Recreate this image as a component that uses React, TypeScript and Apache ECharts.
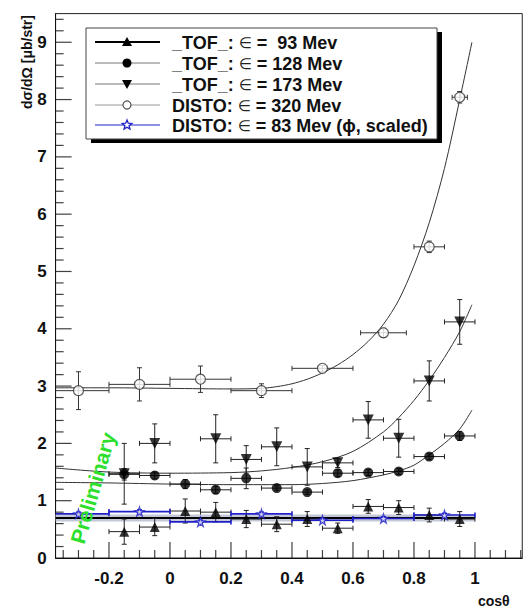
import React, { useEffect, useRef } from 'react';
import * as echarts from 'echarts';

const X_MIN = -0.375;
const X_MAX = 1.155;
const Y_MIN = 0;
const Y_MAX = 9.5;

// [cosθ, dσ/dΩ, x error, y error]
const tof93: number[][] = [
  [-0.15, 0.46, 0.05, 0.22],
  [-0.05, 0.54, 0.05, 0.15],
  [0.05, 0.82, 0.05, 0.21],
  [0.15, 0.8, 0.05, 0.17],
  [0.25, 0.68, 0.05, 0.15],
  [0.35, 0.59, 0.05, 0.13],
  [0.45, 0.68, 0.05, 0.13],
  [0.55, 0.52, 0.05, 0.09],
  [0.65, 0.9, 0.05, 0.12],
  [0.75, 0.88, 0.05, 0.12],
  [0.85, 0.75, 0.05, 0.12],
  [0.95, 0.68, 0.05, 0.13],
];
const tof128: number[][] = [
  [-0.15, 1.46, 0.05, 0.1],
  [-0.05, 1.44, 0.05, 0.06],
  [0.05, 1.29, 0.05, 0.08],
  [0.15, 1.19, 0.05, 0.06],
  [0.25, 1.39, 0.05, 0.18],
  [0.35, 1.22, 0.05, 0.04],
  [0.45, 1.15, 0.05, 0.04],
  [0.55, 1.48, 0.05, 0.06],
  [0.65, 1.49, 0.05, 0.05],
  [0.75, 1.51, 0.05, 0.05],
  [0.85, 1.77, 0.05, 0.05],
  [0.95, 2.13, 0.05, 0.08],
];
const tof173: number[][] = [
  [-0.15, 1.47, 0.05, 0.53],
  [-0.05, 2.0, 0.05, 0.34],
  [0.15, 2.08, 0.05, 0.42],
  [0.25, 1.72, 0.05, 0.24],
  [0.35, 1.94, 0.05, 0.33],
  [0.45, 1.59, 0.05, 0.32],
  [0.55, 1.66, 0.05, 0.08],
  [0.65, 2.41, 0.05, 0.32],
  [0.75, 2.09, 0.05, 0.33],
  [0.85, 3.09, 0.05, 0.35],
  [0.95, 4.12, 0.05, 0.39],
];
const disto320: number[][] = [
  [-0.3, 2.92, 0.1, 0.33],
  [-0.1, 3.03, 0.1, 0.29],
  [0.1, 3.12, 0.1, 0.23],
  [0.3, 2.92, 0.1, 0.12],
  [0.5, 3.31, 0.1, 0.05],
  [0.7, 3.93, 0.075, 0.08],
  [0.85, 5.43, 0.05, 0.1],
  [0.95, 8.04, 0.025, 0.1],
];
const disto83: number[][] = [
  [-0.3, 0.77, 0.1, 0.03],
  [-0.1, 0.81, 0.1, 0.03],
  [0.1, 0.63, 0.1, 0.03],
  [0.3, 0.77, 0.1, 0.03],
  [0.5, 0.66, 0.1, 0.03],
  [0.7, 0.69, 0.1, 0.03],
  [0.9, 0.75, 0.1, 0.03],
];

// fit curves
const fitDisto320: number[][] = [
  [-0.375, 2.97], [-0.2, 2.97], [0, 2.96], [0.2, 2.95], [0.3, 2.96], [0.35, 2.99],
  [0.4, 3.04], [0.45, 3.12], [0.5, 3.23], [0.55, 3.37], [0.6, 3.55], [0.65, 3.78],
  [0.7, 4.08], [0.75, 4.5], [0.8, 5.1], [0.85, 5.85], [0.9, 6.8], [0.95, 8.0], [0.99, 9.0],
];
const fitTof173: number[][] = [
  [-0.375, 1.57], [-0.2, 1.5], [0, 1.48], [0.2, 1.49], [0.3, 1.52], [0.4, 1.58],
  [0.5, 1.68], [0.6, 1.86], [0.7, 2.2], [0.75, 2.45], [0.8, 2.75], [0.85, 3.1],
  [0.9, 3.5], [0.95, 3.95], [0.99, 4.42],
];
const fitTof128: number[][] = [
  [-0.375, 1.32], [-0.2, 1.31], [0, 1.29], [0.2, 1.28], [0.4, 1.28], [0.5, 1.3],
  [0.6, 1.35], [0.7, 1.45], [0.75, 1.52], [0.8, 1.62], [0.85, 1.8], [0.9, 2.0],
  [0.95, 2.25], [0.99, 2.58],
];
const fitTof93: number[][] = [[-0.375, 0.7], [1.0, 0.7]];

// axis tick positions
const xMajorTicks = [-0.2, 0, 0.2, 0.4, 0.6, 0.8, 1.0];
const xMinorTicks = [-0.35, -0.3, -0.25, -0.15, -0.1, -0.05, 0.05, 0.1, 0.15, 0.25, 0.3, 0.35, 0.45, 0.5, 0.55, 0.65, 0.7, 0.75, 0.85, 0.9, 0.95, 1.05, 1.1, 1.15];
const yMajorTicks = [1, 2, 3, 4, 5, 6, 7, 8, 9];
const yMinorTicks: number[] = [];
for (let i = 1; i <= 47; i++) if (i % 5 !== 0) yMinorTicks.push(Math.round(i * 2) / 10);

const legendRows = [
  { pre: '_TOF_: ', post: ' =  93 Mev', line: '#000', lw: 2, mark: 'up' },
  { pre: '_TOF_: ', post: ' = 128 Mev', line: '#777', lw: 1, mark: 'dot' },
  { pre: '_TOF_: ', post: ' = 173 Mev', line: '#777', lw: 1, mark: 'down' },
  { pre: 'DISTO: ', post: ' = 320 Mev', line: '#999', lw: 1, mark: 'open' },
  { pre: 'DISTO: ', post: ' = 83 Mev (\u03d5, scaled)', line: '#2020c8', lw: 1, mark: 'star' },
];

const STAR = 'path://M50,0 L61,35 L98,35 L68,57 L79,91 L50,70 L21,91 L32,57 L2,35 L39,35 Z';
const FONT = 'Liberation Sans, Arial, sans-serif';

function errorBars(color: string, width: number) {
  return (params: any, api: any) => {
    const x = api.value(0), y = api.value(1), xe = api.value(2), ye = api.value(3);
    const cs = params.coordSys;
    const c = api.coord([x, y]);
    const left = api.coord([x - xe, y])[0];
    const right = api.coord([x + xe, y])[0];
    const top = api.coord([x, y + ye])[1];
    const bottom = api.coord([x, y - ye])[1];
    const xl = Math.max(left, cs.x);
    const xr = Math.min(right, cs.x + cs.width);
    const cap = 2.5;
    const style = { stroke: color, lineWidth: width, fill: null };
    const children: any[] = [
      { type: 'line', shape: { x1: xl, y1: c[1], x2: xr, y2: c[1] }, style },
      { type: 'line', shape: { x1: c[0], y1: top, x2: c[0], y2: bottom }, style },
      { type: 'line', shape: { x1: c[0] - cap, y1: top, x2: c[0] + cap, y2: top }, style },
      { type: 'line', shape: { x1: c[0] - cap, y1: bottom, x2: c[0] + cap, y2: bottom }, style },
    ];
    if (left >= cs.x) children.push({ type: 'line', shape: { x1: xl, y1: c[1] - cap, x2: xl, y2: c[1] + cap }, style });
    if (right <= cs.x + cs.width) children.push({ type: 'line', shape: { x1: xr, y1: c[1] - cap, x2: xr, y2: c[1] + cap }, style });
    return { type: 'group', children };
  };
}

function legendMarker(kind: string, cx: number, cy: number): any {
  const s = 5;
  if (kind === 'up') return { type: 'polygon', shape: { points: [[cx, cy - s], [cx + s, cy + s * 0.8], [cx - s, cy + s * 0.8]] }, style: { fill: '#000' } };
  if (kind === 'down') return { type: 'polygon', shape: { points: [[cx, cy + s], [cx + s, cy - s * 0.8], [cx - s, cy - s * 0.8]] }, style: { fill: '#000' } };
  if (kind === 'dot') return { type: 'circle', shape: { cx, cy, r: 4.5 }, style: { fill: '#000' } };
  if (kind === 'open') return { type: 'circle', shape: { cx, cy, r: 4 }, style: { fill: '#fff', stroke: '#555', lineWidth: 1.2 } };
  const pts: number[][] = [];
  for (let i = 0; i < 10; i++) {
    const r = i % 2 === 0 ? 5 : 2.2;
    const a = -Math.PI / 2 + (i * Math.PI) / 5;
    pts.push([cx + r * Math.cos(a), cy + r * Math.sin(a)]);
  }
  return { type: 'polygon', shape: { points: pts }, style: { fill: '#fff', stroke: '#2020c8', lineWidth: 1.3 } };
}

function tickSeries(data: number[][], size: number[], offset: number[]): any {
  return {
    type: 'scatter', data, symbol: 'rect', symbolSize: size, symbolOffset: offset,
    silent: true, clip: false, z: 7, itemStyle: { color: '#111' },
  };
}

export default function App() {
  const ref = useRef<HTMLDivElement>(null);
  useEffect(() => {
    if (!ref.current) return;
    const chart = echarts.init(ref.current, undefined, { renderer: 'svg' });

    const LX = 86, LY = 28, LW = 351, LH = 111;
    const rowY = [42, 63, 84, 105, 125];
    const legendEls: any[] = [
      { type: 'rect', shape: { x: LX + 5, y: LY + 4, width: LW, height: LH }, style: { fill: '#000' } },
      { type: 'rect', shape: { x: LX, y: LY, width: LW, height: LH }, style: { fill: '#fff', stroke: '#444', lineWidth: 1 } },
    ];
    legendRows.forEach((r, i) => {
      const y = rowY[i];
      legendEls.push({ type: 'line', shape: { x1: 95, y1: y, x2: 160, y2: y }, style: { stroke: r.line, lineWidth: r.lw } });
      legendEls.push(legendMarker(r.mark, 127, y));
      legendEls.push({
        type: 'text', x: 172, y: y + 1,
        style: {
          text: '{b|' + r.pre + '}{s|\u2208}{b|' + r.post + '}',
          textVerticalAlign: 'middle',
          rich: {
            b: { font: 'bold 18px ' + FONT, fill: '#111' },
            s: { font: '15px DejaVu Sans, sans-serif', fill: '#222' },
          },
        },
      });
    });

    const option: any = {
      animation: false,
      grid: { left: 55.6, right: 3.75, top: 13.6, bottom: 50, show: true, borderColor: '#222', borderWidth: 1 },
      xAxis: {
        type: 'value', min: X_MIN, max: X_MAX, splitNumber: 8,
        axisLine: { show: true, onZero: false, lineStyle: { color: '#111' } },
        axisTick: { show: false }, splitLine: { show: false },
        axisLabel: {
          showMinLabel: false, showMaxLabel: false, margin: 12,
          color: '#111', fontFamily: FONT, fontWeight: 'bold', fontSize: 17,
          formatter: (v: number) => String(Math.round(v * 10) / 10),
        },
      },
      yAxis: {
        type: 'value', min: Y_MIN, max: Y_MAX, interval: 1,
        axisLine: { show: true, onZero: false, lineStyle: { color: '#111' } },
        axisTick: { show: false }, splitLine: { show: false },
        axisLabel: {
          showMaxLabel: false, margin: 9,
          color: '#111', fontFamily: FONT, fontWeight: 'bold', fontSize: 17,
        },
      },
      graphic: [
        ...legendEls,
        {
          type: 'text', x: 27, y: 62, rotation: Math.PI / 2,
          style: { text: 'd\u03c3/d\u03a9 [\u03bcb/str]', font: 'bold 14px ' + FONT, fill: '#111', textAlign: 'center', textVerticalAlign: 'middle' },
        },
        {
          type: 'text', x: 478, y: 601,
          style: { text: 'cos\u03b8', font: 'bold 14px ' + FONT, fill: '#111', textAlign: 'left', textVerticalAlign: 'middle' },
        },
        {
          type: 'text', x: 93, y: 488, rotation: 1.29, z: 10,
          style: { text: 'Preliminary', font: 'bold 21px ' + FONT, fill: '#2ee02e', textAlign: 'center', textVerticalAlign: 'middle' },
        },
      ],
      series: [
        // tick marks, placed through the axes
        tickSeries(xMajorTicks.map((v) => [v, Y_MIN]), [1.2, 16], [0, -8]),
        tickSeries(xMinorTicks.map((v) => [v, Y_MIN]), [1.2, 8], [0, -4]),
        tickSeries(yMajorTicks.map((v) => [X_MIN, v]), [16, 1.2], [8, 0]),
        tickSeries(yMinorTicks.map((v) => [X_MIN, v]), [8, 1.2], [4, 0]),
        // fits
        { type: 'line', data: fitTof93, showSymbol: false, silent: true, z: 1, lineStyle: { color: '#c4c8d6', width: 7 } },
        { type: 'line', data: fitTof93, showSymbol: false, silent: true, z: 2, lineStyle: { color: '#000', width: 2 } },
        { type: 'line', data: fitDisto320, smooth: 0.3, showSymbol: false, silent: true, z: 2, lineStyle: { color: '#333', width: 1 } },
        { type: 'line', data: fitTof173, smooth: 0.3, showSymbol: false, silent: true, z: 2, lineStyle: { color: '#333', width: 1 } },
        { type: 'line', data: fitTof128, smooth: 0.3, showSymbol: false, silent: true, z: 2, lineStyle: { color: '#333', width: 1 } },
        // error bars
        { type: 'custom', silent: true, clip: false, z: 3, data: disto320, encode: { x: 0, y: 1 }, renderItem: errorBars('#333', 1) },
        { type: 'custom', silent: true, clip: false, z: 3, data: tof173, encode: { x: 0, y: 1 }, renderItem: errorBars('#222', 1) },
        { type: 'custom', silent: true, clip: false, z: 3, data: tof128, encode: { x: 0, y: 1 }, renderItem: errorBars('#222', 1) },
        { type: 'custom', silent: true, clip: false, z: 3, data: tof93, encode: { x: 0, y: 1 }, renderItem: errorBars('#222', 1) },
        { type: 'custom', silent: true, clip: false, z: 4, data: disto83, encode: { x: 0, y: 1 }, renderItem: errorBars('#2020c8', 1.6) },
        // markers
        { type: 'scatter', data: disto320.map((d) => [d[0], d[1]]), symbol: 'circle', symbolSize: 10, z: 5, itemStyle: { color: '#fff', borderColor: '#333', borderWidth: 1.2 } },
        { type: 'scatter', data: tof173.map((d) => [d[0], d[1]]), symbol: 'triangle', symbolRotate: 180, symbolSize: 11, z: 5, itemStyle: { color: '#000' } },
        { type: 'scatter', data: tof128.map((d) => [d[0], d[1]]), symbol: 'circle', symbolSize: 10, z: 5, itemStyle: { color: '#000' } },
        { type: 'scatter', data: tof93.map((d) => [d[0], d[1]]), symbol: 'triangle', symbolSize: 10, z: 5, itemStyle: { color: '#000' } },
        { type: 'scatter', data: disto83.map((d) => [d[0], d[1]]), symbol: STAR, symbolSize: 9, z: 6, itemStyle: { color: '#fff', borderColor: '#2020c8', borderWidth: 1.3 } },
      ],
    };
    chart.setOption(option);
    return () => chart.dispose();
  }, []);
  return <div ref={ref} style={{ position: 'fixed', left: 0, top: 0, width: 526, height: 608, background: '#fff' }} />;
}
